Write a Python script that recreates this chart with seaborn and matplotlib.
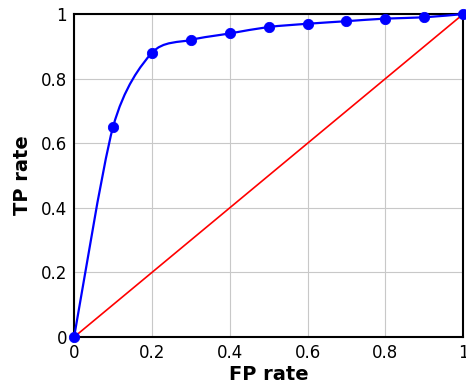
import matplotlib.pyplot as plt
import seaborn as sns
import pandas as pd
import numpy as np
from matplotlib.path import Path
from matplotlib.patches import PathPatch

# ROC points
fp_rate = [0.0, 0.1, 0.2, 0.3, 0.4, 0.5, 0.6, 0.7, 0.8, 0.9, 1.0]
tp_rate = [0.0, 0.65, 0.88, 0.92, 0.94, 0.96, 0.97, 0.978, 0.986, 0.99, 1.0]
diag_x = [0.0, 1.0]
diag_y = [0.0, 1.0]
ticks = [0, 0.2, 0.4, 0.6, 0.8, 1]
tick_labels = ["0", "0.2", "0.4", "0.6", "0.8", "1"]

sns.set_style("white")
plt.rcParams["font.family"] = ["DejaVu Sans"]
plt.rcParams["text.color"] = "black"
plt.rcParams["axes.labelcolor"] = "black"
plt.rcParams["xtick.color"] = "black"
plt.rcParams["ytick.color"] = "black"

df = pd.DataFrame({"fp": fp_rate, "tp": tp_rate})
diag = pd.DataFrame({"x": diag_x, "y": diag_y})

fig = plt.figure(figsize=(4.66, 3.91), dpi=100)
ax = fig.add_axes([0.159, 0.138, 0.835, 0.826])

# smooth curve through the points (cubic bezier, like pgfplots "smooth")
pts = df[["fp", "tp"]].to_numpy()
t = 0.14
verts = [pts[0]]
codes = [Path.MOVETO]
for i in range(len(pts) - 1):
    prev = pts[i - 1] if i > 0 else pts[i]
    nxt = pts[i + 2] if i + 2 < len(pts) else pts[i + 1]
    c1 = pts[i] + t * (pts[i + 1] - prev)
    c2 = pts[i + 1] - t * (nxt - pts[i])
    verts += [c1, c2, pts[i + 1]]
    codes += [Path.CURVE4] * 3
ax.add_patch(PathPatch(Path(verts, codes), fill=False, edgecolor="blue", lw=1.6, zorder=3, clip_on=False))

sns.lineplot(data=diag, x="x", y="y", color="red", lw=1.2, ax=ax, zorder=2)
sns.scatterplot(data=df, x="fp", y="tp", color="blue", s=55, edgecolor="blue", ax=ax, zorder=4, clip_on=False)

ax.set_xlim(0, 1)
ax.set_ylim(0, 1)
ax.set_xticks(ticks, tick_labels)
ax.set_yticks(ticks, tick_labels)
ax.grid(True, color="#c8c8c8", lw=0.8)
ax.set_axisbelow(True)
for s in ax.spines.values():
    s.set_color("black")
    s.set_linewidth(1.5)
ax.tick_params(labelsize=12, direction="in", length=3)
ax.tick_params(axis="x", pad=5)
ax.tick_params(axis="y", pad=5)
ax.set_xlabel("FP rate", fontsize=14, fontweight="bold", labelpad=2)
ax.set_ylabel("TP rate", fontsize=14, fontweight="bold", labelpad=6)

plt.savefig("out.png", dpi=100)
